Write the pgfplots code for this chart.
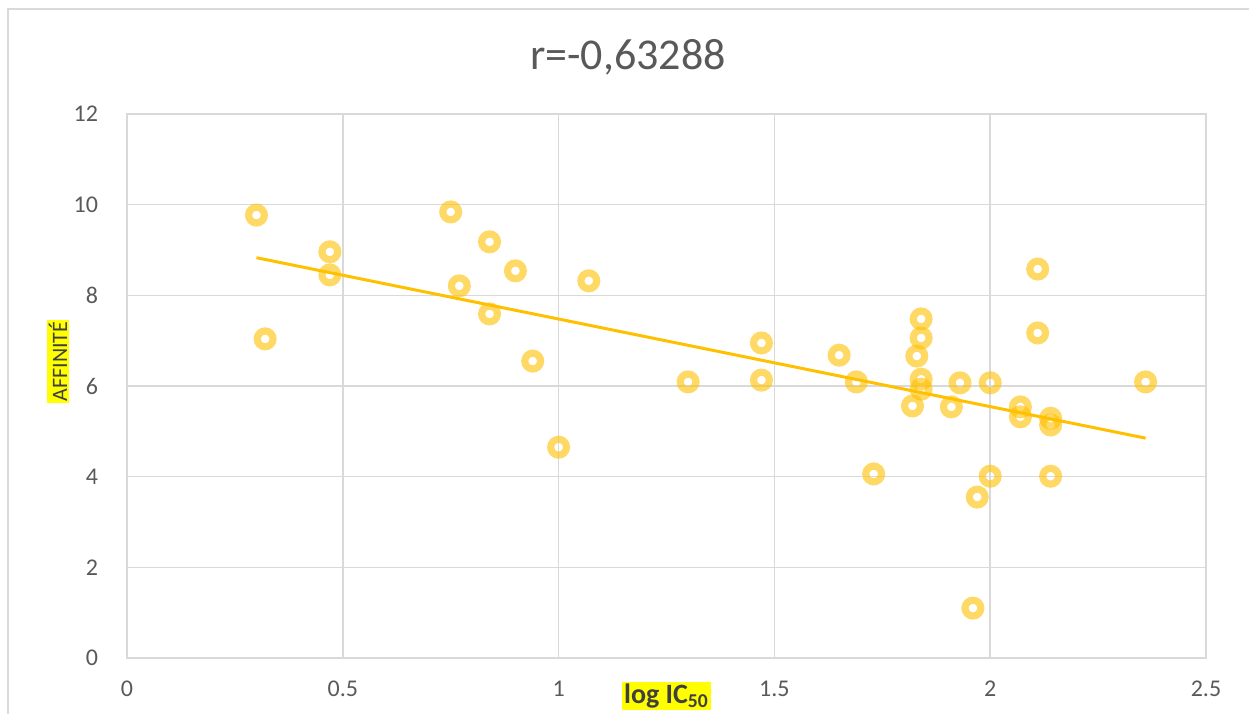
\documentclass[border=0pt]{standalone}
\usepackage{pgfplots}
\pgfplotsset{compat=1.18}
\usepackage{fontspec}
\setmainfont{Carlito}
\definecolor{gold}{RGB}{255,192,0}
\definecolor{gridgray}{RGB}{217,217,217}
\definecolor{txtgray}{RGB}{89,89,89}
\definecolor{lblgray}{RGB}{64,64,64}
\definecolor{hl}{RGB}{255,255,0}
\begin{document}
\begin{tikzpicture}
\begin{axis}[
  scale only axis, width=539.5pt, height=272pt,
  xmin=0, xmax=2.5, ymin=0, ymax=12,
  xtick={0,0.5,1,1.5,2,2.5}, ytick={0,2,4,6,8,10,12},
  grid=major, grid style={gridgray, line width=0.8pt},
  axis line style={gridgray, line width=0.8pt},
  major tick length=0pt,
  /pgf/number format/assume math mode=true,
  tick label style={font=\fontsize{12}{14}\selectfont, text=txtgray},
  xticklabel style={anchor=center, yshift=-15.5pt},
  yticklabel style={anchor=east, xshift=-11pt},
  clip=false,
]
\addplot[only marks, mark=o, mark size=3.95pt,
  mark options={draw=gold, draw opacity=0.6, line width=3.6pt}] table {
x y
0.30 9.77
0.32 7.04
0.47 8.96
0.47 8.45
0.75 9.84
0.77 8.21
0.84 9.18
0.84 7.59
0.90 8.54
0.94 6.55
1.00 4.65
1.07 8.32
1.30 6.09
1.47 6.95
1.47 6.13
1.65 6.68
1.69 6.09
1.73 4.06
1.82 5.56
1.83 6.66
1.84 7.48
1.84 7.06
1.84 6.15
1.84 5.93
1.93 6.07
2.00 6.07
1.91 5.54
2.11 7.17
2.11 8.58
2.07 5.54
2.07 5.32
2.14 5.29
2.14 5.14
2.00 4.01
2.14 4.01
1.97 3.55
1.96 1.10
2.36 6.09
};
\addplot[gold, line width=1.5pt, no marks] coordinates {(0.30,8.83) (2.36,4.85)};
\end{axis}
\node[font=\fontsize{22}{26}\selectfont, text=txtgray] at (250.5pt,300.5pt) {r=-0,63288};
\node[fill=hl, inner sep=1pt, font=\bfseries\fontsize{14}{16}\selectfont, text=lblgray] at (269.75pt,-19pt) {log IC\textsubscript{50}};
\node[fill=hl, inner sep=1pt, rotate=90, font=\fontsize{11}{13}\selectfont, text=lblgray] at (-34.5pt,148.25pt) {AFFINITÉ};
\draw[gridgray, line width=0.8pt] (-59.5pt,-28pt) -- (-59.5pt,324.5pt) -- (561pt,324.5pt);
\pgfresetboundingbox
\useasboundingbox (-63.5pt,-28pt) rectangle (561pt,329pt);
\end{tikzpicture}
\end{document}
